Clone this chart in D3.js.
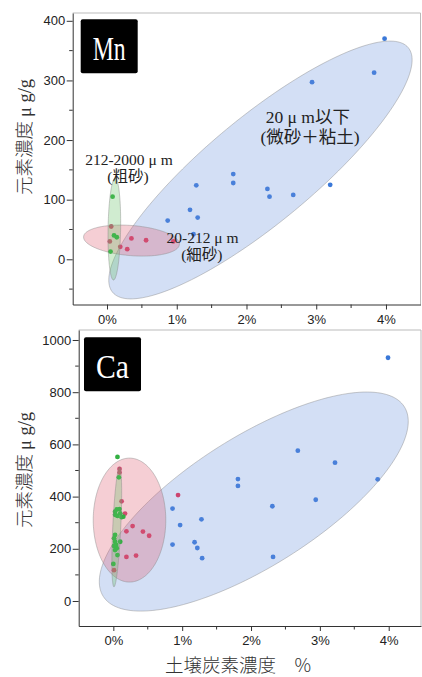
<!DOCTYPE html>
<html>
<head>
<meta charset="utf-8">
<script src="https://cdn.jsdelivr.net/npm/d3@7"></script>
<style>
body { margin: 0; background: #fff; }
svg { display: block; }
.tick text { font-family: "Liberation Sans", Arial, sans-serif; font-size: 13px; fill: #222; }
.note { font-family: "Liberation Serif", "Noto Sans CJK JP", serif; fill: #222; text-anchor: middle; }
.ytitle, .xtitle { font-family: "Noto Sans CJK JP", sans-serif; font-weight: 300; fill: #333; font-size: 18.5px; }
</style>
</head>
<body>
<div id="chart"></div>
<script>
var xTicks = [0, 1, 2, 3, 4];
var xMinor = [0.5, 1.5, 2.5, 3.5];
var mnTicks = [0, 100, 200, 300, 400];
var mnMinor = [-50, 50, 150, 250, 350];
var caTicks = [0, 200, 400, 600, 800, 1000];
var caMinor = [100, 300, 500, 700, 900];

// [soil carbon %, element ug/g]
var mnFine = [[3.98, 370], [3.83, 313], [2.94, 297], [3.20, 125], [2.67, 108], [2.30, 118], [2.33, 105],
  [1.81, 143], [1.81, 128], [1.28, 124], [1.19, 83], [1.30, 70], [0.87, 65], [1.24, 42]];
var mnMedium = [[0.06, 55], [0.04, 30], [0.19, 21], [0.29, 17], [0.35, 35], [0.56, 32], [0.95, 30]];
var mnCoarse = [[0.08, 105], [0.10, 40], [0.14, 37], [0.05, 13]];

var caFine = [[3.99, 932], [2.68, 576], [3.22, 530], [3.84, 466], [1.81, 467], [1.81, 441], [2.94, 388],
  [2.31, 363], [0.86, 354], [0.97, 291], [1.28, 313], [1.18, 225], [1.22, 203], [0.86, 216],
  [1.29, 164], [2.32, 169]];
var caMedium = [[0.94, 406], [0.09, 506], [0.09, 492], [0.12, 382], [0.17, 335], [0.19, 267], [0.28, 287],
  [0.43, 266], [0.52, 250], [0.19, 169], [0.33, 174], [0.01, 118]];
var caCoarse = [[0.06, 552], [0.08, 474], [0.025, 342], [0.05, 351], [0.09, 352], [0.10, 336], [0.06, 326],
  [0.025, 330], [0.12, 321], [0.145, 323], [0.025, 253], [0.01, 240], [0.025, 227], [0.04, 215],
  [0.01, 211], [0.05, 202], [0.025, 195], [0.10, 227], [0.06, 176], [0.0, 142]];

// ellipse: centre x, centre y, major half-axis (dx, dy), minor half-axis (dx, dy), data units
var mnEllipseFine = [2.20, 149.8, 2.12, 205.1, 0.485, -68.4];
var mnEllipseMedium = [0.351, 31.4, 0.687, -6.5, -0.017, -25.2];
var mnEllipseCoarse = [0.105, 50.8, 0.012, 85.5, 0.09, 0];
var caEllipseFine = [2.04, 381, 2.187, 363.2, 0.502, -210.3];
var caEllipseMedium = [0.235, 310, 0, 237.5, 0.527, 0];
var caEllipseCoarse = [0.05, 283.5, 0.041, 229, 0.058, -0.7];

var colors = { fine: "#3a78d8", medium: "#cc4470", coarse: "#33b043" };
var fills = { fine: "rgb(110,150,222)", medium: "rgb(222,92,112)", coarse: "rgb(100,192,100)" };

var svg = d3.select("#chart").append("svg")
    .attr("width", 422)
    .attr("height", 677);

var drawPanel = function (p) {
    var x = d3.scaleLinear().domain(p.xDomain).range([p.left, p.right]);
    var y = d3.scaleLinear().domain(p.yDomain).range([p.bottom, p.top]);
    var g = svg.append("g");

    var clipId = "clip-" + p.name;
    g.append("clipPath").attr("id", clipId)
        .append("rect")
        .attr("x", p.left).attr("y", p.top)
        .attr("width", p.right - p.left).attr("height", p.bottom - p.top);

    // frame top / right
    g.append("path")
        .attr("d", "M" + p.left + "," + p.top + "H" + p.right + "V" + p.bottom)
        .attr("fill", "none")
        .attr("stroke", "#bbb");

    var plot = g.append("g").attr("clip-path", "url(#" + clipId + ")");

    var ellipseLine = d3.line()
        .x(function (d) { return x(d[0]); })
        .y(function (d) { return y(d[1]); })
        .curve(d3.curveLinearClosed);

    var ellipsePoints = function (e) {
        return d3.range(0, 2 * Math.PI, Math.PI / 90).map(function (t) {
            return [e[0] + e[2] * Math.cos(t) + e[4] * Math.sin(t),
                    e[1] + e[3] * Math.cos(t) + e[5] * Math.sin(t)];
        });
    };

    p.groups.forEach(function (grp) {
        plot.selectAll(".dot-" + grp.key)
            .data(grp.points)
            .enter()
            .append("circle")
            .attr("class", "dot-" + grp.key)
            .attr("cx", function (d) { return x(d[0]); })
            .attr("cy", function (d) { return y(d[1]); })
            .attr("r", 2.4)
            .attr("fill", colors[grp.key]);

        plot.append("path")
            .attr("d", ellipseLine(ellipsePoints(grp.ellipse)))
            .attr("fill", fills[grp.key])
            .attr("fill-opacity", 0.3)
            .attr("stroke", "#888")
            .attr("stroke-opacity", 0.55)
            .attr("stroke-width", 0.8);
    });

    var xAxis = d3.axisBottom(x)
        .tickValues(xTicks)
        .tickFormat(function (d) { return d + "%"; })
        .tickSize(5)
        .tickSizeOuter(0)
        .tickPadding(5);
    var xg = g.append("g")
        .attr("transform", "translate(0," + p.bottom + ")")
        .call(xAxis);
    xg.select(".domain").attr("stroke", "#333");
    xg.selectAll(".tick line").attr("stroke", "#333");
    xg.selectAll(".minor")
        .data(xMinor)
        .enter()
        .append("line")
        .attr("class", "minor")
        .attr("x1", function (d) { return x(d); })
        .attr("x2", function (d) { return x(d); })
        .attr("y1", 0)
        .attr("y2", 3.5)
        .attr("stroke", "#333");

    var yAxis = d3.axisLeft(y)
        .tickValues(p.yTicks)
        .tickFormat(d3.format("d"))
        .tickSize(6)
        .tickSizeOuter(0)
        .tickPadding(1.5);
    var yg = g.append("g")
        .attr("transform", "translate(" + p.left + ",0)")
        .call(yAxis);
    yg.select(".domain").attr("stroke", "#333");
    yg.selectAll(".tick line").attr("stroke", "#333");
    yg.selectAll(".minor")
        .data(p.yMinor)
        .enter()
        .append("line")
        .attr("class", "minor")
        .attr("x1", 0)
        .attr("x2", -3.5)
        .attr("y1", function (d) { return y(d); })
        .attr("y2", function (d) { return y(d); })
        .attr("stroke", "#333");

    // element label box
    g.append("rect")
        .attr("x", p.left + p.boxDx)
        .attr("y", p.top + p.boxDy)
        .attr("width", 57)
        .attr("height", 54)
        .attr("rx", 2)
        .attr("fill", "#000");
    g.append("text")
        .attr("x", p.left + p.boxDx + 28.5)
        .attr("y", p.top + p.boxDy + 41)
        .attr("text-anchor", "middle")
        .attr("font-family", "'Liberation Serif', 'DejaVu Serif', serif")
        .attr("font-size", 33)
        .attr("textLength", 33)
        .attr("lengthAdjust", "spacingAndGlyphs")
        .attr("fill", "#fff")
        .text(p.name);

    // y title
    var yt = g.append("text")
        .attr("class", "ytitle")
        .attr("text-anchor", "middle")
        .attr("transform", "translate(" + 31 + "," + p.titleY + ") rotate(-90)");
    yt.append("tspan").text("元素濃度");
    yt.append("tspan")
        .attr("font-family", "'Liberation Serif', serif")
        .attr("dx", 4)
        .text("μ g/g");

    if (p.notes) p.notes(g, x, y);
};

drawPanel({
    name: "Mn",
    left: 72.7, right: 420.5, top: 13, bottom: 304.5,
    xDomain: [-0.492, 4.495], yDomain: [-75.8, 413.1],
    yTicks: mnTicks, yMinor: mnMinor,
    boxDx: 8, boxDy: 6.3, titleY: 137,
    groups: [
        { key: "fine", points: mnFine, ellipse: mnEllipseFine },
        { key: "medium", points: mnMedium, ellipse: mnEllipseMedium },
        { key: "coarse", points: mnCoarse, ellipse: mnEllipseCoarse }
    ],
    notes: function (g, x, y) {
        g.append("text").attr("class", "note").attr("font-size", 17.5)
            .attr("x", x(2.88)).attr("y", y(228)).text("20 μ m以下");
        g.append("text").attr("class", "note").attr("font-size", 17.5)
            .attr("x", x(2.91)).attr("y", y(195)).text("(微砂＋粘土)");
        g.append("text").attr("class", "note").attr("font-size", 15.5)
            .attr("x", x(0.315)).attr("y", y(158)).text("212-2000 μ m");
        g.append("text").attr("class", "note").attr("font-size", 15.5)
            .attr("x", x(0.30)).attr("y", y(129)).text("(粗砂)");
        g.append("text").attr("class", "note").attr("font-size", 15.5)
            .attr("x", x(1.37)).attr("y", y(28)).text("20-212 μ m");
        g.append("text").attr("class", "note").attr("font-size", 15.5)
            .attr("x", x(1.36)).attr("y", y(-1)).text("(細砂)");
    }
});

drawPanel({
    name: "Ca",
    left: 78.7, right: 421, top: 330, bottom: 626,
    xDomain: [-0.503, 4.469], yDomain: [-95.8, 1038.3],
    yTicks: caTicks, yMinor: caMinor,
    boxDx: 5.3, boxDy: 7.3, titleY: 470,
    groups: [
        { key: "fine", points: caFine, ellipse: caEllipseFine },
        { key: "medium", points: caMedium, ellipse: caEllipseMedium },
        { key: "coarse", points: caCoarse, ellipse: caEllipseCoarse }
    ]
});

svg.append("text")
    .attr("class", "xtitle")
    .attr("x", 165)
    .attr("y", 672)
    .attr("font-size", 19.5)
    .text("土壌炭素濃度　%");
</script>
</body>
</html>
